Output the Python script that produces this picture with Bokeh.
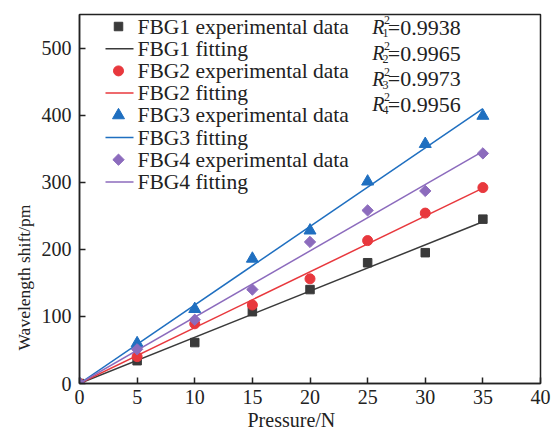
import numpy as np
from bokeh.plotting import figure
from bokeh.models import Label, FixedTicker, Range1d, Title
from bokeh.core.properties import value
from bokeh.embed import file_html
from bokeh.resources import INLINE

pressure = [0, 5, 10, 15, 20, 25, 30, 35]
fbg1 = [0, 34, 61, 107, 140, 180, 195, 245]
fbg2 = [0, 40, 89, 117, 156, 213, 254, 292]
fbg3 = [0, 60, 111, 186, 228, 301, 357, 399]
fbg4 = [0, 51, 95, 140, 211, 258, 287, 343]
r2_values = ["0.9938", "0.9965", "0.9973", "0.9956"]
x_ticks = [0, 5, 10, 15, 20, 25, 30, 35, 40]
y_ticks = [0, 100, 200, 300, 400, 500]
names = ["FBG1", "FBG2", "FBG3", "FBG4"]

FONT = "Liberation Serif"
TXT = "#222222"
colors = ["#3a3a3a", "#e8383d", "#1f6fc0", "#8c6bbd"]
markers = ["square", "circle", "triangle", "square"]
angles = [0, 0, 0, np.pi / 4]
sizes = [8.5, 10, 12, 8]

W, H = 557, 432
L, R, T, B = 79, 17, 14, 49
XR, YR = (0, 40), (0, 550)
p = figure(width=W, height=H, output_backend="svg", toolbar_location=None,
           x_range=Range1d(*XR), y_range=Range1d(*YR),
           min_border_left=L, min_border_right=R, min_border_top=T, min_border_bottom=B)
p.grid.visible = False
p.outline_line_color = TXT
p.outline_line_width = 1.5
p.background_fill_color = "white"
p.border_fill_color = "white"

for ax in (p.xaxis[0], p.yaxis[0]):
    ax.major_tick_in = 6
    ax.major_tick_out = 0
    ax.minor_tick_in = 0
    ax.minor_tick_out = 0
    ax.axis_line_color = TXT
    ax.axis_line_width = 1.5
    ax.major_tick_line_color = TXT
    ax.major_tick_line_width = 1.5
    ax.major_label_text_font = FONT
    ax.major_label_text_font_size = "20px"
    ax.major_label_text_color = TXT

p.xaxis[0].ticker = FixedTicker(ticks=x_ticks)
p.yaxis[0].ticker = FixedTicker(ticks=y_ticks)
p.xaxis[0].major_label_standoff = 6
p.yaxis[0].major_label_standoff = 8

# axis titles as side titles (off-centre like the reference)
p.add_layout(Title(text="Pressure/N", align="left", offset=168, standoff=0,
                   text_font=FONT, text_font_size="20px", text_font_style="normal",
                   text_color=TXT), "below")
p.add_layout(Title(text="Wavelength shift/pm", align="left", offset=33, standoff=10,
                   text_font=FONT, text_font_size="17.5px", text_font_style="normal",
                   text_color=TXT), "left")

x = np.array(pressure, dtype=float)
fit_x = np.array([0.0, 35.0])
fw, fh = W - L - R, H - T - B
def to_dx(px):
    return XR[0] + (px - L) / fw * (XR[1] - XR[0])
def to_dy(py):
    return YR[0] + (T + fh - py) / fh * (YR[1] - YR[0])

for i, (name, ys, c, m, s, a) in enumerate(zip(names, [fbg1, fbg2, fbg3, fbg4], colors, markers, sizes, angles)):
    y = np.array(ys, dtype=float)
    slope = float(np.sum(x * y) / np.sum(x * x))
    p.line(fit_x, slope * fit_x, line_color=c, line_width=1.5)
    p.scatter(x, y, marker=m, size=s, angle=a, fill_color=c, line_color=c)

    # legend rows (experimental data, fitting)
    row_exp = 26 + 22.2 * (2 * i)
    row_fit = 26 + 22.2 * (2 * i + 1)
    p.scatter([to_dx(118)], [to_dy(row_exp)], marker=m, size=s, angle=a, fill_color=c, line_color=c)
    p.line([to_dx(105), to_dx(133)], [to_dy(row_fit)] * 2, line_color=c, line_width=1.5)
    for row, lab in ((row_exp, f"{name} experimental data"), (row_fit, f"{name} fitting")):
        p.text([to_dx(137)], [to_dy(row)], text=[lab], text_font=value(FONT),
               text_font_size="21.5px", text_color=TXT, text_baseline="middle")

# R^2 annotations
base_ys = [531, 492, 454, 416]
for i, (val, by) in enumerate(zip(r2_values, base_ys)):
    p.add_layout(Label(x=25.4, y=by, text="R", text_font=FONT, text_font_style="italic",
                       text_font_size="20px", text_color=TXT, text_baseline="alphabetic"))
    p.add_layout(Label(x=26.42, y=by + 11, text="2", text_font=FONT,
                       text_font_size="12px", text_color=TXT, text_baseline="alphabetic"))
    p.add_layout(Label(x=26.3, y=by - 9, text=str(i + 1), text_font=FONT,
                       text_font_size="12px", text_color=TXT, text_baseline="alphabetic"))
    p.add_layout(Label(x=26.75, y=by, text="=" + val, text_font=FONT,
                       text_font_size="22px", text_color=TXT, text_baseline="alphabetic"))

open("out.html", "w").write(file_html(p, INLINE))
